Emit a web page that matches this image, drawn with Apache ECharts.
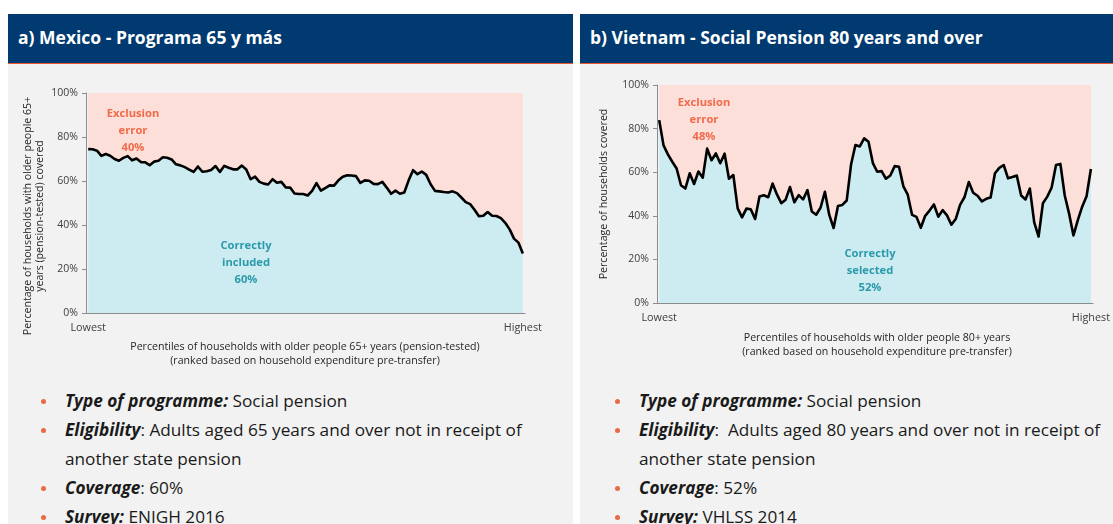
<!DOCTYPE html>
<html>
<head>
<meta charset="utf-8">
<script src="https://cdn.jsdelivr.net/npm/echarts@6/dist/echarts.min.js"></script>
<style>
  html, body { margin: 0; padding: 0; background: #ffffff; width: 1113px; height: 524px; overflow: hidden; font-family: "Open Sans", Lato, sans-serif; }
  .panel { position: absolute; top: 64px; height: 460px; background: #f2f2f2; }
  .head { position: absolute; top: 14px; height: 49px; background: #003a70; border-bottom: 1.5px solid #e8552f; color: #ffffff; font-weight: 700; font-size: 17.5px; line-height: 49px; box-sizing: content-box; }
  .head span { position: absolute; left: 10px; top: -1px; }
  .notes { position: absolute; margin: 0; padding: 0; list-style: none; font-size: 17.2px; color: #1a1a1a; line-height: 29px; white-space: nowrap; }
  .notes li { position: relative; padding-left: 0; }
  .notes li::before { content: ""; position: absolute; left: -24px; top: 13px; width: 5px; height: 5px; border-radius: 50%; background: #ea6a45; }
  .notes b { font-weight: 700; font-style: italic; }
  #chart { position: absolute; left: 0; top: 0; width: 1113px; height: 524px; }
</style>
</head>
<body>
<div class="panel" style="left:8px;width:565px;"></div>
<div class="panel" style="left:580px;width:533px;"></div>
<div class="head" style="left:8px;width:565px;"><span>a) Mexico - Programa 65 y más</span></div>
<div class="head" style="left:580px;width:533px;"><span>b) Vietnam - Social Pension 80 years and over</span></div>

<ul class="notes" style="left:65px;top:386px;">
  <li><b>Type of programme:</b> Social pension</li>
  <li><b>Eligibility</b>: Adults aged 65 years and over not in receipt of<br>another state pension</li>
  <li><b>Coverage</b>: 60%</li>
  <li><b>Survey:</b> ENIGH 2016</li>
</ul>
<ul class="notes" style="left:639px;top:386px;">
  <li><b>Type of programme:</b> Social pension</li>
  <li><b>Eligibility</b>:&nbsp; Adults aged 80 years and over not in receipt of<br>another state pension</li>
  <li><b>Coverage</b>: 52%</li>
  <li><b>Survey:</b> VHLSS 2014</li>
</ul>

<div id="chart"></div>

<script>
// Percentiles 1..100 of households ranked by pre-transfer expenditure
const percentiles = Array.from({ length: 100 }, (_, i) => String(i + 1));
const yTicks = [0, 20, 40, 60, 80, 100];

// Mexico, Programa 65 y más: share of households with people 65+ covered (%)
const mexicoCovered = [
  74.5, 74.4, 73.8, 71.4, 72.3, 71.5, 70.0, 69.2, 70.5, 71.3,
  69.4, 70.2, 68.6, 68.5, 67.2, 68.8, 69.2, 70.8, 70.6, 69.8,
  67.6, 67.1, 66.3, 65.2, 64.1, 66.6, 64.2, 64.4, 65.0, 66.8,
  64.1, 66.9, 66.0, 65.3, 65.3, 67.0, 65.2, 60.8, 62.0, 59.6,
  58.8, 58.4, 60.8, 59.2, 59.6, 57.1, 57.0, 54.3, 54.1, 54.1,
  53.4, 55.5, 59.0, 55.6, 56.8, 58.0, 57.9, 60.3, 61.9, 62.6,
  62.5, 62.2, 59.1, 60.3, 60.1, 58.7, 58.6, 59.6, 57.0, 54.2,
  55.6, 54.2, 54.8, 60.3, 64.9, 63.1, 64.3, 62.8, 58.5, 55.5,
  55.3, 55.0, 54.8, 55.3, 54.5, 52.5, 50.4, 49.5, 46.9, 44.0,
  44.2, 45.9, 44.2, 44.1, 43.1, 41.0, 38.0, 33.8, 32.0, 27.0
];

// Vietnam, Social Pension 80+: share of households with people 80+ covered (%)
const vietnamCovered = [
  83.9, 72.3, 68.2, 64.8, 61.7, 54.0, 52.5, 59.5, 54.6, 60.3,
  57.5, 70.8, 65.5, 68.6, 64.1, 68.5, 57.0, 58.7, 43.4, 39.3,
  43.3, 43.0, 38.5, 48.8, 49.4, 48.5, 54.8, 49.8, 45.8, 47.4,
  53.2, 46.2, 49.5, 47.5, 51.8, 42.0, 40.5, 43.7, 51.0, 40.4,
  34.4, 44.5, 45.0, 47.0, 63.5, 72.5, 71.8, 75.5, 74.0, 64.2,
  60.2, 60.5, 57.0, 58.5, 62.8, 62.5, 53.5, 49.7, 40.4, 39.5,
  34.5, 40.0, 42.4, 45.2, 39.6, 42.6, 40.2, 35.9, 38.5, 45.0,
  48.5, 55.5, 50.6, 49.2, 46.6, 47.8, 48.4, 59.5, 62.0, 63.3,
  57.2, 57.8, 58.5, 49.3, 47.5, 52.5, 37.0, 30.5, 45.8, 48.8,
  53.0, 63.3, 63.8, 49.3, 41.0, 31.0, 38.0, 44.2, 49.0, 61.5
];

const FONT = 'Open Sans';
const AXIS_GREY = '#8c8c8c';
const TEXT_GREY = '#404040';
const BLUE = '#cdecf2';
const PINK = '#fcdfd8';
const ORANGE = '#f26a4b';
const TEAL = '#2b9aab';

function xAxisFor(gridIndex) {
  return {
    type: 'category', gridIndex, data: percentiles, boundaryGap: true,
    axisLine: { lineStyle: { color: AXIS_GREY, width: 1 } },
    axisTick: { interval: 9, length: 4, lineStyle: { color: AXIS_GREY } },
    axisLabel: {
      interval: (i) => i === 0 || i === percentiles.length - 1,
      formatter: (v, i) => (i === 0 ? 'Lowest' : 'Highest'),
      color: TEXT_GREY, fontFamily: FONT, fontSize: 10.8, margin: 9
    },
    splitLine: { show: false }
  };
}
function yAxisFor(gridIndex) {
  return {
    type: 'value', gridIndex, min: yTicks[0], max: yTicks[yTicks.length - 1], interval: 20,
    axisLine: { show: true, lineStyle: { color: AXIS_GREY, width: 1 } },
    axisTick: { show: true, length: 4, lineStyle: { color: AXIS_GREY } },
    axisLabel: { formatter: '{value}%', color: TEXT_GREY, fontFamily: FONT, fontSize: 10.5, margin: 8 },
    splitLine: { show: false }
  };
}
function coverageSeries(idx, values) {
  return [
    {
      type: 'line', xAxisIndex: idx, yAxisIndex: idx, stack: 'share' + idx, data: values,
      symbol: 'none', z: 3, silent: true,
      lineStyle: { color: '#000000', width: 2.6, join: 'round' },
      areaStyle: { color: BLUE, opacity: 1 }
    },
    {
      type: 'line', xAxisIndex: idx, yAxisIndex: idx, stack: 'share' + idx,
      data: values.map((v) => 100 - v),
      symbol: 'none', z: 2, silent: true,
      lineStyle: { width: 0, opacity: 0 },
      areaStyle: { color: PINK, opacity: 1 }
    }
  ];
}

// Multi-line bold annotation centred on (x, y)
function label(x, y, lines, color) {
  return {
    type: 'text', x, y, z: 100,
    style: {
      text: lines.join('\n'), fill: color,
      fontFamily: FONT, fontWeight: 'bold', fontSize: 11.2,
      align: 'center', verticalAlign: 'middle', lineHeight: 16.7
    }
  };
}
function axisTitle(x, y, lines, rotate, lh) {
  return {
    type: 'text', x, y, z: 100, rotation: rotate ? Math.PI / 2 : 0,
    style: {
      text: lines.join('\n'), fill: '#262626',
      fontFamily: FONT, fontSize: 10.6,
      align: 'center', verticalAlign: 'middle', lineHeight: lh
    }
  };
}

const chart = echarts.init(document.getElementById('chart'), null, { renderer: 'canvas' });
chart.setOption({
  backgroundColor: 'transparent',
  animation: false,
  grid: [
    { left: 86, top: 93, width: 439, height: 220 },
    { left: 657, top: 85, width: 440, height: 218 }
  ],
  xAxis: [xAxisFor(0), xAxisFor(1)],
  yAxis: [yAxisFor(0), yAxisFor(1)],
  series: [...coverageSeries(0, mexicoCovered), ...coverageSeries(1, vietnamCovered)],
  graphic: [
    label(133, 131, ['Exclusion', 'error', '40%'], ORANGE),
    label(246, 263, ['Correctly', 'included', '60%'], TEAL),
    label(704, 120, ['Exclusion', 'error', '48%'], ORANGE),
    label(870, 271, ['Correctly', 'selected', '52%'], TEAL),
    axisTitle(34, 216, ['Percentage of households with older people 65+', 'years (pension-tested) covered'], true, 12.5),
    axisTitle(604, 194, ['Percentage of households covered'], true, 12.5),
    axisTitle(305, 354, ['Percentiles of households with older people 65+ years (pension-tested)', '(ranked based on household expenditure pre-transfer)'], false, 14),
    axisTitle(877, 345, ['Percentiles of households with older people 80+ years', '(ranked based on household expenditure pre-transfer)'], false, 14)
  ]
});
</script>
</body>
</html>
